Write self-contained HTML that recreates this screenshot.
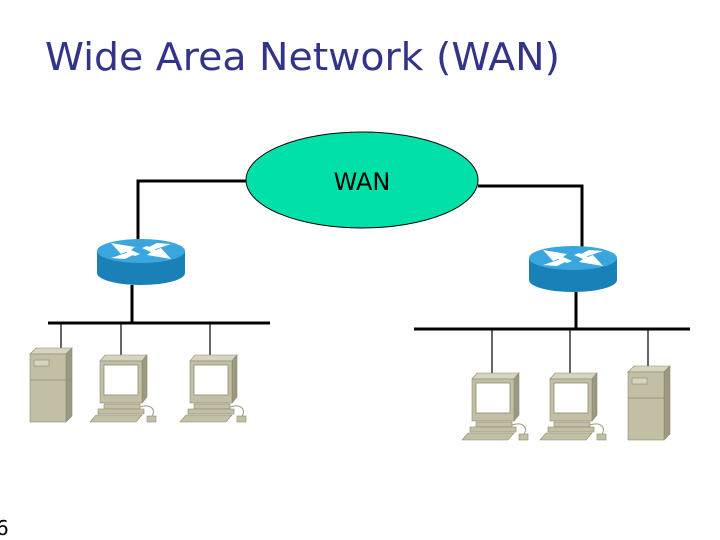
<!DOCTYPE html>
<html><head><meta charset="utf-8"><style>
html,body{margin:0;padding:0;background:#fff;width:720px;height:540px;overflow:hidden}
</style></head><body>
<svg width="720" height="540" viewBox="0 0 720 540" xmlns="http://www.w3.org/2000/svg">
<defs>
<g id="pc">
  <polygon points="10,6 15,0 57,0 52,6" fill="#d6d4be" stroke="#8c8a74" stroke-width="0.6"/>
  <polygon points="52,6 57,0 57,42 52,48" fill="#9c9980" stroke="#8c8a74" stroke-width="0.6"/>
  <rect x="10" y="6" width="42" height="42" fill="#c2bfa4" stroke="#8c8a74" stroke-width="0.6"/>
  <rect x="14" y="10" width="34" height="30" fill="#fff" stroke="#8c8a74" stroke-width="0.8"/>
  <rect x="14" y="49" width="36" height="5" fill="#c2bfa4" stroke="#8c8a74" stroke-width="0.6"/>
  <rect x="8" y="54" width="46" height="5" fill="#c2bfa4" stroke="#8c8a74" stroke-width="0.6"/>
  <polygon points="0,67 6,60 52,60 46,67" fill="#c2bfa4" stroke="#8c8a74" stroke-width="0.6"/>
  <path d="M50,52 C62,48 66,56 62,61" fill="none" stroke="#9a987f" stroke-width="1"/>
  <rect x="57" y="61" width="9" height="6" fill="#c2bfa4" stroke="#8c8a74" stroke-width="0.6"/>
</g>
<g id="srv">
  <polygon points="0,6 6,0 42,0 36,6" fill="#d6d4be" stroke="#8c8a74" stroke-width="0.6"/>
  <polygon points="36,6 42,0 42,68 36,74" fill="#9c9980" stroke="#8c8a74" stroke-width="0.6"/>
  <rect x="0" y="6" width="36" height="68" fill="#c2bfa4" stroke="#8c8a74" stroke-width="0.6"/>
  <rect x="4" y="12" width="15" height="6" fill="#d6d4be" stroke="#8c8a74" stroke-width="0.6"/>
  <line x1="0" y1="32" x2="36" y2="32" stroke="#8c8a74" stroke-width="0.8"/>
</g>
<g id="rtr">
  <path d="M-44,0 L-44,22 A44,12 0 0 0 44,22 L44,0 Z" fill="#1a80b8"/>
  <ellipse cx="0" cy="0" rx="44" ry="12" fill="#3aa6de"/>
  <g fill="#fff">
    <polygon points="-30,-8 -6,-4 -10,-1 -1,3 -6,5 -15,1 -20,3"/>
    <polygon points="30,8 6,4 10,1 1,-3 6,-5 15,-1 20,-3"/>
    <polygon points="-30,7 -12,1 -6,3 -16,8"/>
    <polygon points="30,-7 12,-1 6,-3 16,-8"/>
  </g>
</g>
</defs>
<text x="45" y="70" font-family="DejaVu Sans, sans-serif" font-size="38" fill="#333388" textLength="515" lengthAdjust="spacingAndGlyphs">Wide Area Network (WAN)</text>
<polyline points="246,181 138,181 138,242" fill="none" stroke="#000" stroke-width="3"/>
<polyline points="478,186 582,186 582,249" fill="none" stroke="#000" stroke-width="3"/>
<ellipse cx="362" cy="180" rx="116" ry="48" fill="#00e0a8" stroke="#000" stroke-width="1"/>
<text x="362" y="190" text-anchor="middle" font-family="DejaVu Sans, sans-serif" font-size="24" fill="#000">WAN</text>
<use href="#rtr" x="141" y="251"/>
<use href="#rtr" x="573" y="258"/>
<line x1="132" y1="285" x2="132" y2="323" stroke="#000" stroke-width="3"/>
<line x1="48" y1="323" x2="270" y2="323" stroke="#000" stroke-width="3"/>
<line x1="61" y1="323" x2="61" y2="354" stroke="#000" stroke-width="1.2"/>
<line x1="121" y1="323" x2="121" y2="362" stroke="#000" stroke-width="1.2"/>
<line x1="210" y1="323" x2="210" y2="362" stroke="#000" stroke-width="1.2"/>
<line x1="576" y1="292" x2="576" y2="329" stroke="#000" stroke-width="3"/>
<line x1="414" y1="329" x2="690" y2="329" stroke="#000" stroke-width="3"/>
<line x1="492" y1="329" x2="492" y2="378" stroke="#000" stroke-width="1.2"/>
<line x1="570" y1="329" x2="570" y2="378" stroke="#000" stroke-width="1.2"/>
<line x1="648" y1="329" x2="648" y2="372" stroke="#000" stroke-width="1.2"/>
<use href="#srv" x="30" y="348"/>
<use href="#pc" x="90" y="355"/>
<use href="#pc" x="180" y="355"/>
<use href="#pc" x="462" y="373"/>
<use href="#pc" x="540" y="373"/>
<use href="#srv" x="628" y="366"/>
<text x="-4" y="535" font-family="DejaVu Sans, sans-serif" font-size="20" fill="#000">6</text>
</svg>
</body></html>
